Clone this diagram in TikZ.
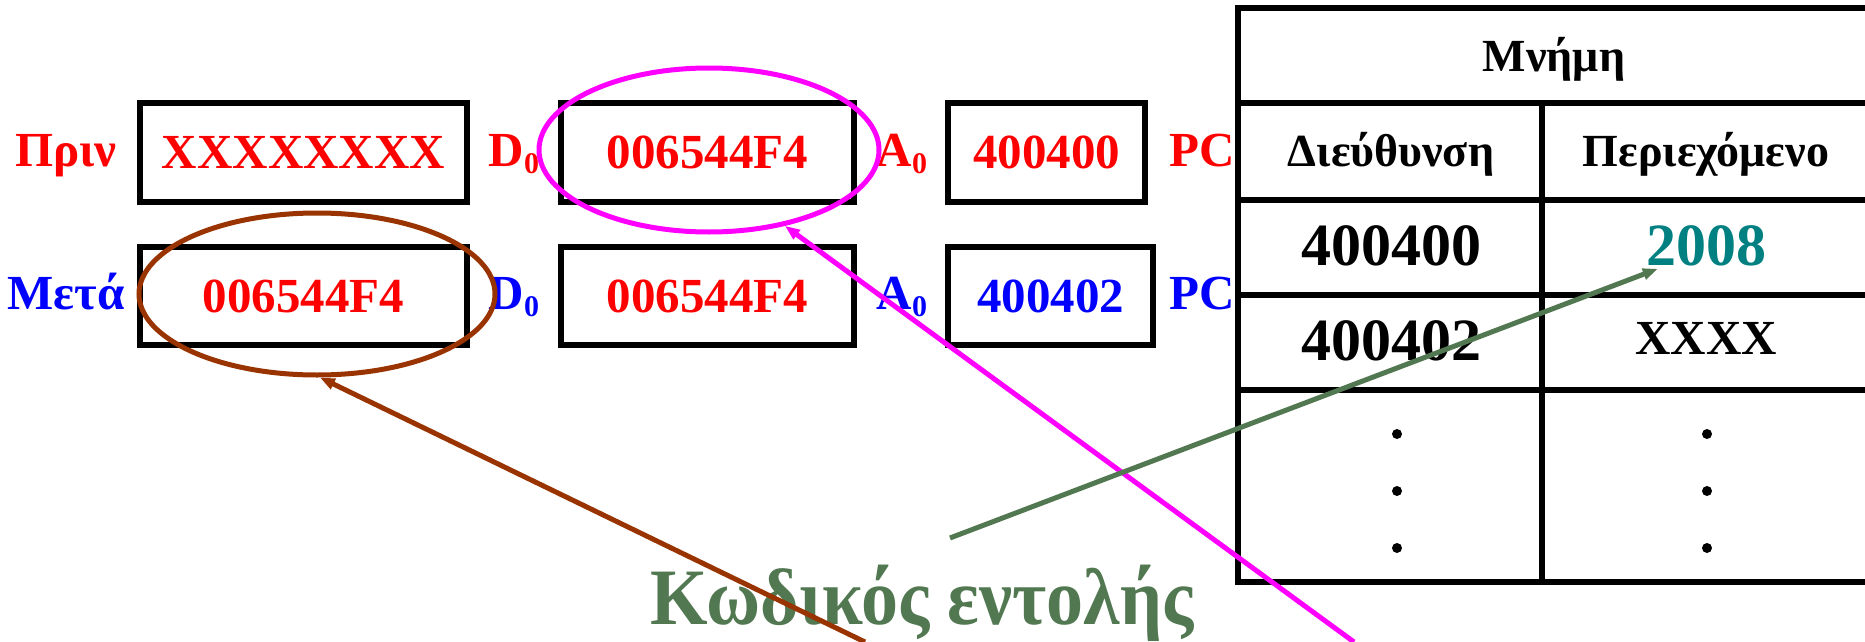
\documentclass[tikz,border=0pt]{standalone}
\usepackage{fontspec}
\setmainfont{Liberation Serif}
\newfontfamily\capfont{Liberation Serif}[FakeStretch=0.925]
\usetikzlibrary{shapes.geometric,arrows.meta}
\definecolor{cred}{RGB}{255,0,0}
\definecolor{cblue}{RGB}{0,0,255}
\definecolor{cteal}{RGB}{0,128,128}
\definecolor{cgreen}{RGB}{82,120,82}
\definecolor{cbrown}{RGB}{153,51,0}
\definecolor{cmag}{RGB}{255,0,255}
\newcommand{\subz}{\raisebox{-7pt}{\fontsize{30}{30}\selectfont 0}}
\begin{document}
\begin{tikzpicture}[x=1pt,y=-1pt,
  regbox/.style={draw=black,line width=6pt,inner sep=0pt,font=\fontsize{49}{58}\selectfont\bfseries},
  lbl/.style={inner sep=0pt,anchor=base,font=\fontsize{49}{58}\selectfont\bfseries},
  tabline/.style={line width=5.5pt,line cap=rect},
  hdr/.style={inner sep=0pt,anchor=base,font=\fontsize{46}{55}\selectfont\bfseries},
  big/.style={inner sep=0pt,anchor=base,font=\fontsize{60}{72}\selectfont\bfseries},
  ring/.style={ellipse,draw,line width=5pt,inner sep=0pt},
  arr/.style={line width=5pt,-{Triangle[length=15pt,width=11pt]}}]
\useasboundingbox (0,0) rectangle (1865,642);

% row labels
\node[lbl,text=cred] (prin) at (66,166) {Πριν};
\node[lbl,text=cblue] (meta) at (66,309) {Μετά};

% registers, before
\node[regbox,text=cred,minimum width=327pt,minimum height=99pt] (d0a) at (303.5,152.5) {XXXXXXXX};
\node[lbl,text=cred] (ld0a) at (514,166) {D\subz};
\node[regbox,text=cred,minimum width=293pt,minimum height=99pt] (a0a) at (707.5,152.5) {006544F4};
\node[lbl,text=cred] (la0a) at (902,166) {A\subz};
\node[regbox,text=cred,minimum width=197pt,minimum height=99pt] (pca) at (1046.5,152.5) {400400};
\node[lbl,text=cred] (lpca) at (1202,166) {PC};

% registers, after
\node[regbox,text=cred,minimum width=327pt,minimum height=98pt] (d0b) at (303.5,296) {006544F4};
\node[lbl,text=cblue] (ld0b) at (514,309) {D\subz};
\node[regbox,text=cred,minimum width=293pt,minimum height=98pt] (a0b) at (707.5,296) {006544F4};
\node[lbl,text=cblue] (la0b) at (902,309) {A\subz};
\node[regbox,text=cblue,minimum width=205pt,minimum height=98pt] (pcb) at (1050.5,296) {400402};
\node[lbl,text=cblue] (lpcb) at (1202,309) {PC};

% memory table
\draw[tabline] (1238,8) -- (1875,8);
\draw[tabline] (1238,8) -- (1238,582) -- (1875,582);
\draw[tabline] (1238,103) -- (1875,103);
\draw[tabline] (1238,200) -- (1875,200);
\draw[tabline] (1238,295) -- (1875,295);
\draw[tabline] (1238,390) -- (1875,390);
\draw[tabline] (1542,103) -- (1542,582);

\node[hdr] (mem) at (1554,71) {Μνήμη};
\node[hdr] (haddr) at (1391,166) {Διεύθυνση};
\node[hdr] (hcont) at (1706,166) {Περιεχόμενο};
\node[big] (ad1) at (1391,265) {400400};
\node[big,text=cteal] (c2008) at (1706,265) {2008};
\node[big] (ad2) at (1391,360) {400402};
\node[lbl] (cx) at (1706,354) {XXXX};
\foreach \yy in {434,491,548}{
  \fill (1397,\yy) circle (5pt);
  \fill (1707,\yy) circle (5pt);
}

% caption
\node[inner sep=0pt,anchor=base,text=cgreen,font=\capfont\fontsize{80}{96}\selectfont\bfseries] (code) at (922,624) {Κωδικός εντολής};

% highlight ellipses
\node[ring,draw=cmag,minimum width=340pt,minimum height=164pt] (mage) at (709,150) {};
\node[ring,draw=cbrown,minimum width=356pt,minimum height=162pt] (browne) at (317,294) {};

% arrows
\coordinate (gtail) at (950,538);
\coordinate (mtail) at (1354,642);
\coordinate (btail) at (865,642);
\draw[arr,draw=cbrown,fill=cbrown] (btail) -- (browne.-88);
\draw[arr,draw=cmag,fill=cmag] (mtail) -- (mage.-45);
\draw[arr,draw=cgreen,fill=cgreen] (gtail) -- ([shift={(12,3)}]c2008.south west);
\end{tikzpicture}
\end{document}
